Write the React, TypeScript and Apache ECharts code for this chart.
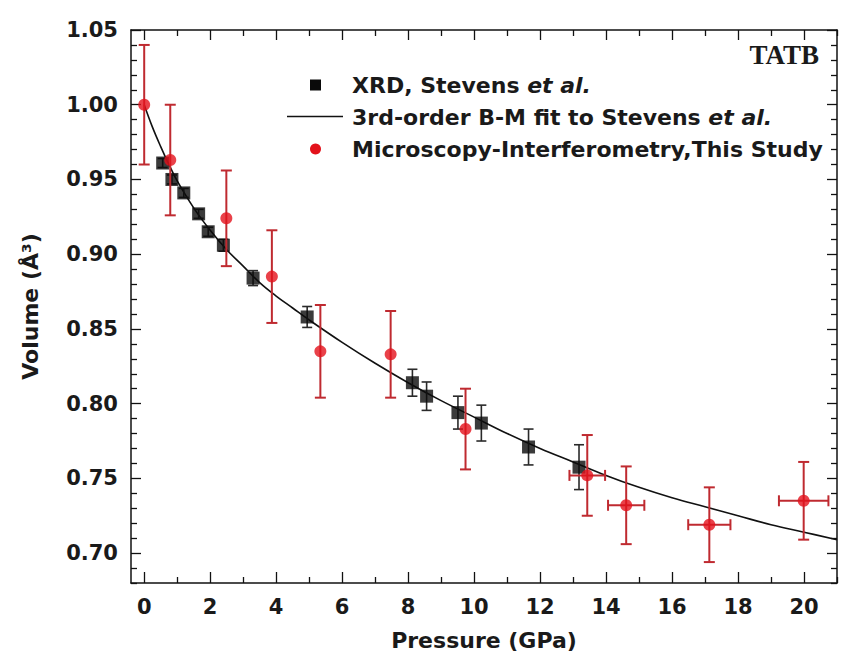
import React, { useEffect, useRef } from "react";
import * as echarts from "echarts";

// ---- data ----
const fitP = [0, 0.25, 0.5, 0.75, 1, 1.5, 2, 2.5, 3, 3.5, 4, 4.5, 5, 6, 7, 8, 9, 10, 11, 12, 13, 14, 15, 16, 17, 18, 19, 20, 21];
const fitV = [1.0, 0.985, 0.972, 0.96, 0.949, 0.931, 0.916, 0.903, 0.892, 0.881, 0.872, 0.864, 0.856, 0.841, 0.827, 0.814, 0.802, 0.791, 0.78, 0.77, 0.761, 0.752, 0.744, 0.737, 0.731, 0.725, 0.719, 0.714, 0.709];

const xrdP = [0.56, 0.84, 1.2, 1.65, 1.94, 2.4, 3.3, 4.94, 8.13, 8.56, 9.51, 10.22, 11.65, 13.18];
const xrdV = [0.961, 0.95, 0.941, 0.927, 0.915, 0.906, 0.884, 0.858, 0.814, 0.805, 0.794, 0.787, 0.771, 0.7575];
const xrdErr = [0.003, 0.003, 0.003, 0.003, 0.003, 0.004, 0.005, 0.007, 0.009, 0.0095, 0.011, 0.012, 0.012, 0.015];

const miP = [0, 0.79, 2.49, 3.87, 5.34, 7.47, 9.74, 13.43, 14.61, 17.13, 19.99];
const miV = [1.0, 0.963, 0.924, 0.885, 0.835, 0.833, 0.783, 0.752, 0.732, 0.719, 0.735];
const miErrV = [0.04, 0.037, 0.032, 0.031, 0.031, 0.029, 0.027, 0.027, 0.026, 0.025, 0.026];
const miErrP = [0, 0, 0, 0, 0, 0, 0, 0.54, 0.55, 0.64, 0.75];

const xMajor = [0, 2, 4, 6, 8, 10, 12, 14, 16, 18, 20];
const xMinor = [1, 3, 5, 7, 9, 11, 13, 15, 17, 19, 21];
const yMajor = [0.7, 0.75, 0.8, 0.85, 0.9, 0.95, 1.0, 1.05];
const yMinor = [0.68, 0.69, 0.71, 0.72, 0.73, 0.74, 0.76, 0.77, 0.78, 0.79, 0.81, 0.82, 0.83, 0.84, 0.86, 0.87, 0.88, 0.89, 0.91, 0.92, 0.93, 0.94, 0.96, 0.97, 0.98, 0.99, 1.01, 1.02, 1.03, 1.04];

const legendLabels = ["XRD, Stevens ", "3rd-order B-M fit to Stevens ", "Microscopy-Interferometry,This Study"];

const FONT = "DejaVu Sans";
const RED = "#e3121b";
const RED_BAR = "#bf2a30";

function errRender(color: string, cap: number, width: number) {
  return (params: any, api: any) => {
    const x = api.value(0);
    const y = api.value(1);
    const ey = api.value(2);
    const ex = api.value(3);
    const top = api.coord([x, y + ey]);
    const bot = api.coord([x, y - ey]);
    const style = { stroke: color, lineWidth: width };
    const children: any[] = [
      { type: "line", shape: { x1: top[0], y1: top[1], x2: bot[0], y2: bot[1] }, style },
      { type: "line", shape: { x1: top[0] - cap, y1: top[1], x2: top[0] + cap, y2: top[1] }, style },
      { type: "line", shape: { x1: bot[0] - cap, y1: bot[1], x2: bot[0] + cap, y2: bot[1] }, style },
    ];
    if (ex > 0) {
      const l = api.coord([x - ex, y]);
      const r = api.coord([x + ex, y]);
      children.push(
        { type: "line", shape: { x1: l[0], y1: l[1], x2: r[0], y2: r[1] }, style },
        { type: "line", shape: { x1: l[0], y1: l[1] - cap, x2: l[0], y2: l[1] + cap }, style },
        { type: "line", shape: { x1: r[0], y1: r[1] - cap, x2: r[0], y2: r[1] + cap }, style }
      );
    }
    return { type: "group", children };
  };
}

export default function App() {
  const ref = useRef<HTMLDivElement>(null);
  useEffect(() => {
    if (!ref.current) return;
    const chart = echarts.init(ref.current, null, { renderer: "svg" });
    const axisLineStyle = { color: "#111", width: 1.5 };
    const tickStyle = { color: "#111", width: 1.3 };
    const X = { type: "value", min: -0.4, max: 21, splitLine: { show: false } };
    const Y = { type: "value", min: 0.68, max: 1.05, splitLine: { show: false } };
    const richLegend = {
      a: { fontFamily: FONT, fontWeight: "bold", fontSize: 22, fill: "#1a1a1a" },
      b: { fontFamily: FONT, fontWeight: "bold", fontStyle: "italic", fontSize: 22, fill: "#1a1a1a" },
    };
    const option: any = {
      animation: false,
      backgroundColor: "#fff",
      grid: { left: 131, right: 5, top: 30, bottom: 77, containLabel: false },
      xAxis: [
        {
          ...X,
          position: "bottom",
          axisLine: { show: true, onZero: false, lineStyle: axisLineStyle },
          axisTick: { show: true, inside: true, length: 11, customValues: xMajor, lineStyle: tickStyle },
          axisLabel: {
            show: true,
            customValues: xMajor,
            margin: 13,
            fontFamily: FONT,
            fontWeight: "bold",
            fontSize: 21,
            color: "#1a1a1a",
          },
          name: "Pressure (GPa)",
          nameLocation: "middle",
          nameGap: 46,
          nameTextStyle: { fontFamily: FONT, fontWeight: "bold", fontSize: 22, color: "#1a1a1a" },
        },
        {
          ...X,
          position: "bottom",
          axisLine: { show: false, onZero: false },
          axisTick: { show: true, inside: true, length: 6, customValues: xMinor, lineStyle: tickStyle },
          axisLabel: { show: false },
        },
        {
          ...X,
          position: "top",
          axisLine: { show: true, onZero: false, lineStyle: axisLineStyle },
          axisTick: { show: true, inside: true, length: 10, customValues: xMajor, lineStyle: tickStyle },
          axisLabel: { show: false },
        },
        {
          ...X,
          position: "top",
          axisLine: { show: false, onZero: false },
          axisTick: { show: true, inside: true, length: 6, customValues: xMinor, lineStyle: tickStyle },
          axisLabel: { show: false },
        },
      ],
      yAxis: [
        {
          ...Y,
          position: "left",
          axisLine: { show: true, onZero: false, lineStyle: axisLineStyle },
          axisTick: { show: true, inside: true, length: 10, customValues: yMajor, lineStyle: tickStyle },
          axisLabel: {
            show: true,
            customValues: yMajor,
            margin: 13,
            formatter: (v: number) => v.toFixed(2),
            fontFamily: FONT,
            fontWeight: "bold",
            fontSize: 21,
            color: "#1a1a1a",
          },
          name: "Volume (Å³)",
          nameLocation: "middle",
          nameGap: 90,
          nameTextStyle: { fontFamily: FONT, fontWeight: "bold", fontSize: 22, color: "#1a1a1a" },
        },
        {
          ...Y,
          position: "left",
          axisLine: { show: false, onZero: false },
          axisTick: { show: true, inside: true, length: 6, customValues: yMinor, lineStyle: tickStyle },
          axisLabel: { show: false },
        },
        {
          ...Y,
          position: "right",
          axisLine: { show: true, onZero: false, lineStyle: axisLineStyle },
          axisTick: { show: true, inside: true, length: 10, customValues: yMajor, lineStyle: tickStyle },
          axisLabel: { show: false },
        },
        {
          ...Y,
          position: "right",
          axisLine: { show: false, onZero: false },
          axisTick: { show: true, inside: true, length: 6, customValues: yMinor, lineStyle: tickStyle },
          axisLabel: { show: false },
        },
      ],
      series: [
        {
          name: "3rd-order B-M fit to Stevens et al.",
          type: "line",
          xAxisIndex: 0,
          yAxisIndex: 0,
          data: fitP.map((p, i) => [p, fitV[i]]),
          smooth: 0.4,
          showSymbol: false,
          symbol: "none",
          lineStyle: { color: "#111", width: 1.6 },
          z: 2,
        },
        {
          name: "XRD errors",
          type: "custom",
          xAxisIndex: 0,
          yAxisIndex: 0,
          renderItem: errRender("#2a2a2a", 5, 1.6),
          data: xrdP.map((p, i) => [p, xrdV[i], xrdErr[i], 0]),
          encode: { x: 0, y: 1 },
          z: 3,
        },
        {
          name: "XRD, Stevens et al.",
          type: "scatter",
          xAxisIndex: 0,
          yAxisIndex: 0,
          symbol: "rect",
          symbolSize: 13,
          itemStyle: { color: "#0a0a0a" },
          data: xrdP.map((p, i) => [p, xrdV[i]]),
          z: 4,
        },
        {
          name: "MI errors",
          type: "custom",
          xAxisIndex: 0,
          yAxisIndex: 0,
          renderItem: errRender(RED_BAR, 5.5, 2),
          data: miP.map((p, i) => [p, miV[i], miErrV[i], miErrP[i]]),
          encode: { x: 0, y: 1 },
          z: 5,
        },
        {
          name: "Microscopy-Interferometry,This Study",
          type: "scatter",
          xAxisIndex: 0,
          yAxisIndex: 0,
          symbol: "circle",
          symbolSize: 12,
          itemStyle: { color: RED },
          data: miP.map((p, i) => [p, miV[i]]),
          z: 6,
        },
      ],
      graphic: [
        { type: "rect", shape: { x: 310, y: 79.5, width: 11, height: 11 }, style: { fill: "#0a0a0a" }, z: 10 },
        { type: "line", shape: { x1: 287, y1: 116.5, x2: 343, y2: 116.5 }, style: { stroke: "#111", lineWidth: 1.6 }, z: 10 },
        { type: "circle", shape: { cx: 315.5, cy: 149, r: 5.5 }, style: { fill: RED }, z: 10 },
        {
          type: "text",
          x: 352,
          y: 85,
          z: 10,
          style: {
            text: "{a|" + legendLabels[0] + "}{b|et al.}",
            verticalAlign: "middle",
            rich: richLegend,
          },
        },
        {
          type: "text",
          x: 352,
          y: 117,
          z: 10,
          style: {
            text: "{a|" + legendLabels[1] + "}{b|et al.}",
            verticalAlign: "middle",
            rich: richLegend,
          },
        },
        {
          type: "text",
          x: 352,
          y: 149,
          z: 10,
          style: {
            text: legendLabels[2],
            verticalAlign: "middle",
            fontFamily: FONT,
            fontWeight: "bold",
            fontSize: 22,
            fill: "#1a1a1a",
          },
        },
        {
          type: "text",
          x: 819,
          y: 55,
          z: 10,
          style: {
            text: "TATB",
            align: "right",
            verticalAlign: "middle",
            fontFamily: "Liberation Serif",
            fontWeight: "bold",
            fontSize: 27,
            fill: "#1a1a1a",
          },
        },
      ],
    };
    chart.setOption(option);
    return () => chart.dispose();
  }, []);
  return (
    <div
      ref={ref}
      style={{ position: "fixed", left: 0, top: 0, width: 842, height: 660, background: "#fff" }}
    />
  );
}
